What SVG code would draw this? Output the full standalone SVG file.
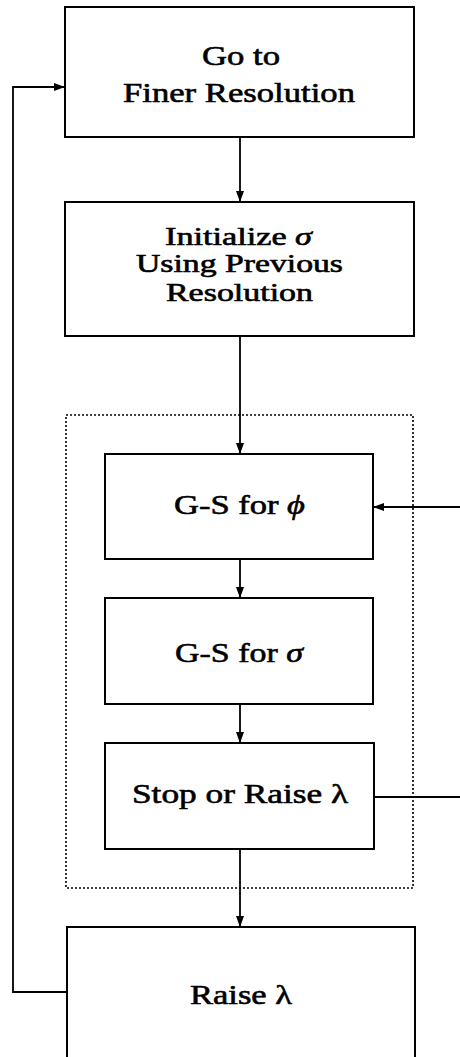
<svg xmlns="http://www.w3.org/2000/svg" width="460" height="1057" viewBox="0 0 460 1057">
  <style>
    .box { fill: #fff; stroke: #000; stroke-width: 2; }
    .frame { fill: none; stroke: #000; stroke-width: 1.6; stroke-dasharray: 2 2; }
    .wire { fill: none; stroke: #000; stroke-width: 1.8; }
    .lbl { font-family: "Liberation Serif", "Times New Roman", serif; font-size: 28px; font-weight: normal; fill: #000; stroke: #000; stroke-width: 0.6; }
    .tight { font-size: 25px; }
    .gr { font-style: italic; }
  </style>
  <defs>
    <marker id="arrow" viewBox="0 0 11 8" refX="11" refY="4" markerWidth="11" markerHeight="8" markerUnits="userSpaceOnUse" orient="auto">
      <path d="M0,0 L11,4 L0,8 Z" fill="#000"/>
    </marker>
  </defs>

  <rect width="460" height="1057" fill="#fff"/>

  <!-- inner iteration frame -->
  <rect id="inner-loop" class="frame" x="66" y="415" width="347" height="473"/>

  <g id="connectors">
    <line class="wire" x1="240" y1="137" x2="240" y2="202" marker-end="url(#arrow)"/>
    <line class="wire" x1="240" y1="336" x2="240" y2="454" marker-end="url(#arrow)"/>
    <line class="wire" x1="240" y1="559" x2="240" y2="598" marker-end="url(#arrow)"/>
    <line class="wire" x1="240" y1="704" x2="240" y2="743" marker-end="url(#arrow)"/>
    <line class="wire" x1="240" y1="849" x2="240" y2="927" marker-end="url(#arrow)"/>
    <line class="wire" x1="460" y1="507" x2="373" y2="507" marker-end="url(#arrow)"/>
    <line class="wire" x1="374" y1="797" x2="460" y2="797"/>
    <polyline class="wire" points="67,992 13,992 13,87 65,87" marker-end="url(#arrow)"/>
  </g>

  <g id="finer-resolution">
    <rect class="box" x="65" y="7" width="349" height="130"/>
    <text class="lbl" x="202" y="65" textLength="78" lengthAdjust="spacingAndGlyphs">Go to</text>
    <text class="lbl" x="123" y="102" textLength="232" lengthAdjust="spacingAndGlyphs">Finer Resolution</text>
  </g>

  <g id="init-sigma">
    <rect class="box" x="65" y="202" width="349" height="134"/>
    <text class="lbl tight" x="165" y="245" textLength="147" lengthAdjust="spacingAndGlyphs">Initialize <tspan class="gr">σ</tspan></text>
    <text class="lbl tight" x="136" y="272" textLength="207" lengthAdjust="spacingAndGlyphs">Using Previous</text>
    <text class="lbl tight" x="166" y="301" textLength="147" lengthAdjust="spacingAndGlyphs">Resolution</text>
  </g>

  <g id="gs-phi">
    <rect class="box" x="105" y="454" width="268" height="105"/>
    <text class="lbl" x="174" y="514" textLength="131" lengthAdjust="spacingAndGlyphs">G-S for <tspan class="gr">ϕ</tspan></text>
  </g>

  <g id="gs-sigma">
    <rect class="box" x="105" y="598" width="268" height="106"/>
    <text class="lbl" x="175" y="662" textLength="128" lengthAdjust="spacingAndGlyphs">G-S for <tspan class="gr">σ</tspan></text>
  </g>

  <g id="stop-or-raise">
    <rect class="box" x="105" y="743" width="269" height="106"/>
    <text class="lbl" x="132" y="803" textLength="216" lengthAdjust="spacingAndGlyphs">Stop or Raise λ</text>
  </g>

  <g id="raise-lambda">
    <rect class="box" x="67" y="927" width="348" height="140"/>
    <text class="lbl" x="190" y="1004" textLength="102" lengthAdjust="spacingAndGlyphs">Raise λ</text>
  </g>
</svg>
